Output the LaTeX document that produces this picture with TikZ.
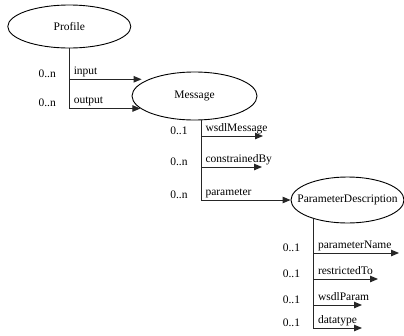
\documentclass[tikz,border=0pt]{standalone}
\usepackage{fontspec}
\setmainfont{Liberation Serif}
\usetikzlibrary{arrows.meta,shapes.geometric}
\definecolor{cizgiGri}{HTML}{262626}

\begin{document}
\begin{tikzpicture}[x=1pt,y=-1pt,font=\fontsize{11.5}{13.5}\selectfont,
  sinif/.style={ellipse,draw,line width=0.9pt,inner sep=0pt},
  bag/.style={draw=cizgiGri,line width=1pt,-{Triangle[length=8pt,width=6.5pt]}},
  rol/.style={anchor=base west,inner sep=0pt,xshift=4pt,yshift=4.5pt},
  say/.style={anchor=base east,inner sep=0pt,xshift=-13pt,yshift=2pt}]
\useasboundingbox (0,0) rectangle (404,335);
\node[sinif,minimum width=123pt,minimum height=43pt] (profile) at (69.3,26.5) {\makebox[0pt]{Profile}};
\node[sinif,minimum width=125pt,minimum height=48pt] (message) at (194.5,96) {\makebox[0pt]{Message}};
\node[sinif,minimum width=113pt,minimum height=46pt] (paramDesc) at (347.5,200) {\makebox[0pt]{ParameterDescription}};
% Profile -> Message
\draw[bag] (profile.south) |- ([xshift=-7pt]message.160) node[pos=0.5,rol]{input} node[pos=0.5,say]{0..n};
\draw[bag] (profile.south) |- (message.193) node[pos=0.5,rol]{output} node[pos=0.5,say]{0..n};
% Message
\coordinate (wsdlMessage) at (263,136);
\coordinate (constrainedBy) at (262,167);
\draw[bag] (message.-75) |- (wsdlMessage) node[pos=0.5,rol]{wsdlMessage} node[pos=0.5,say]{0..1};
\draw[bag] (message.-75) |- (constrainedBy) node[pos=0.5,rol]{constrainedBy} node[pos=0.5,say]{0..n};
\draw[bag] (message.-75) |- (paramDesc.west) node[pos=0.5,rol]{parameter} node[pos=0.5,say]{0..n};
% ParameterDescription
\foreach \ad/\x/\y in {parameterName/399/253,restrictedTo/378/279,wsdlParam/362/305,datatype/362/328}{
  \coordinate (\ad) at (\x,\y);
  \draw[bag] (paramDesc.209) |- (\ad) node[pos=0.5,rol]{\ad} node[pos=0.5,say]{0..1};
}
\end{tikzpicture}
\end{document}
